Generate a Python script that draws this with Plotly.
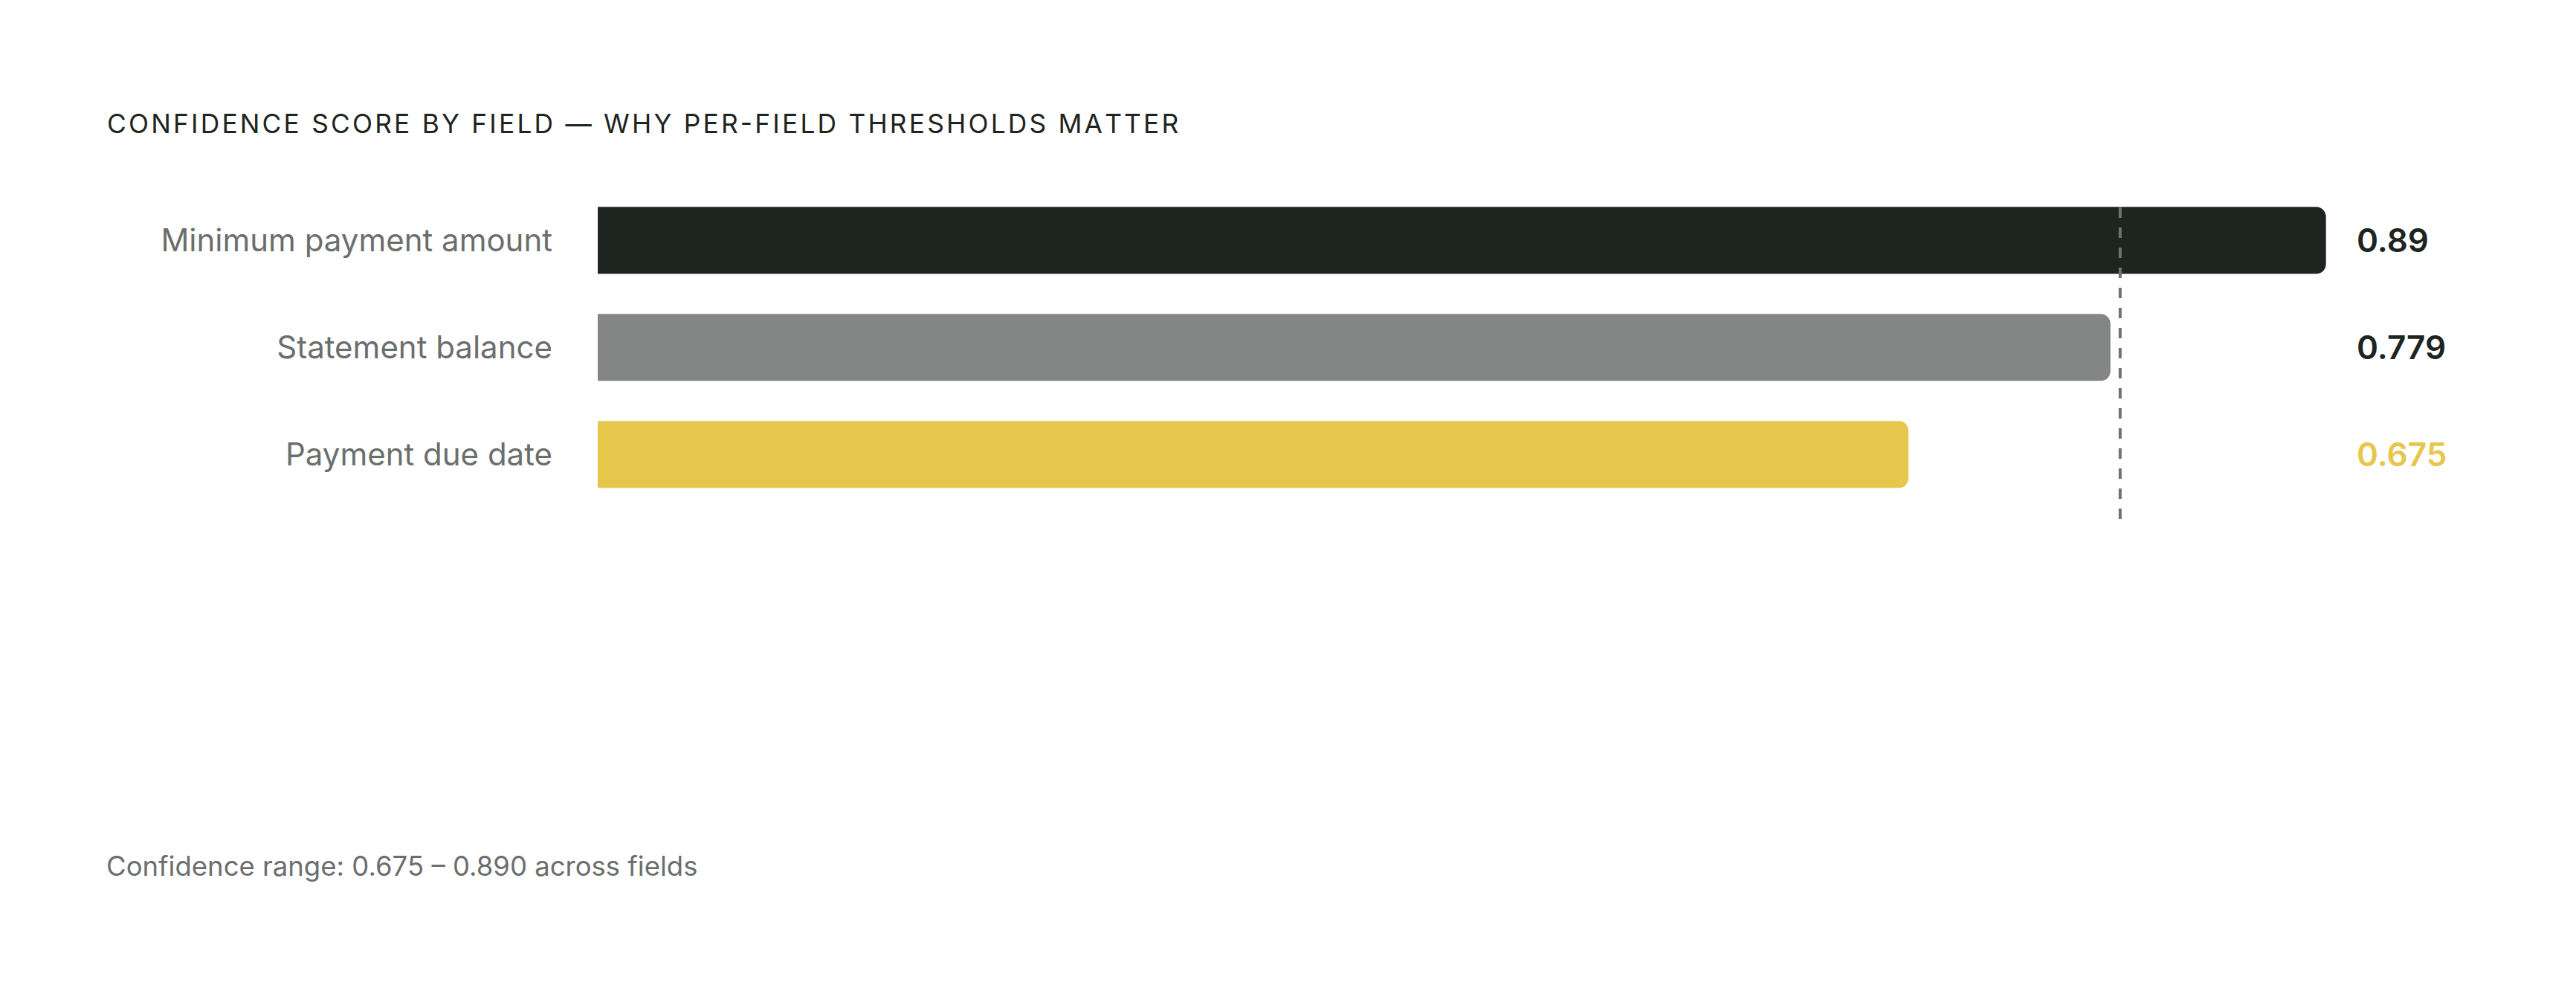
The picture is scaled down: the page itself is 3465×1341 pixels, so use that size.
import plotly.graph_objects as go

# ---- data ----
fields = ["Minimum payment amount", "Statement balance", "Payment due date"]
scores = [0.89, 0.779, 0.675]
score_labels = ["0.89", "0.779", "0.675"]
threshold = 0.784

title_text = "CONFIDENCE SCORE BY FIELD — WHY PER-FIELD THRESHOLDS MATTER"
footer_text = "Confidence range: 0.675 – 0.890 across fields"

# ---- styles ----
bar_colors = ["#1e2420", "#838684", "#e6c74c"]
value_colors = ["#1e2420", "#1e2420", "#e6c74c"]
FONT = "Inter"
OFF = 8  # page body margin
W, H = 3465, 1341
L = 804 - OFF
T = 278 - OFF
PW, PH = 2612, 420
R = W - L - PW
B = H - T - PH
LABEL_X = 0.905


def tracked(s, sp="\u200a"):
    return sp.join(list(s))


fig = go.Figure()
fig.add_trace(go.Bar(
    y=fields,
    x=scores,
    orientation="h",
    marker=dict(color=bar_colors, line=dict(width=0)),
    width=0.625,
    hoverinfo="skip",
    showlegend=False,
))

for f, lab, col in zip(fields, score_labels, value_colors):
    fig.add_annotation(
        x=LABEL_X, y=f, xref="x", yref="y",
        text=lab, showarrow=False, xanchor="left", yanchor="middle",
        font=dict(family=FONT, size=44, color=col, weight=600),
    )

fig.add_shape(
    type="line", xref="x", yref="paper",
    x0=threshold, x1=threshold, y0=0, y1=1,
    line=dict(color="#6f7471", width=4, dash="14px,13px"),
    layer="above",
)

fig.add_annotation(
    x=(141 - OFF - L) / PW, y=(H - B - (1165 - OFF)) / PH,
    xref="paper", yref="paper",
    text=footer_text, showarrow=False, xanchor="left", yanchor="middle",
    font=dict(family=FONT, size=36.5, color="#6b6f6c"),
)

fig.update_layout(
    width=W, height=H,
    margin=dict(l=L, r=R, t=T, b=B, pad=0),
    paper_bgcolor="white", plot_bgcolor="white",
    barcornerradius=13,
    title=dict(
        text=tracked(title_text),
        x=(144 - OFF) / W, xanchor="left", xref="container",
        y=1 - (167 - OFF) / H, yanchor="middle", yref="container",
        font=dict(family=FONT, size=35.3, color="#1e2420"),
    ),
    xaxis=dict(range=[0, 1], visible=False, fixedrange=True),
    yaxis=dict(
        categoryorder="array", categoryarray=fields,
        range=[2.602, -0.315],
        showgrid=False, zeroline=False, showline=False, ticks="",
        ticklabelstandoff=60,
        tickfont=dict(family=FONT, size=42, color="#6b6f6c"),
    ),
    font=dict(family=FONT),
)

fig.write_html("out.html")
